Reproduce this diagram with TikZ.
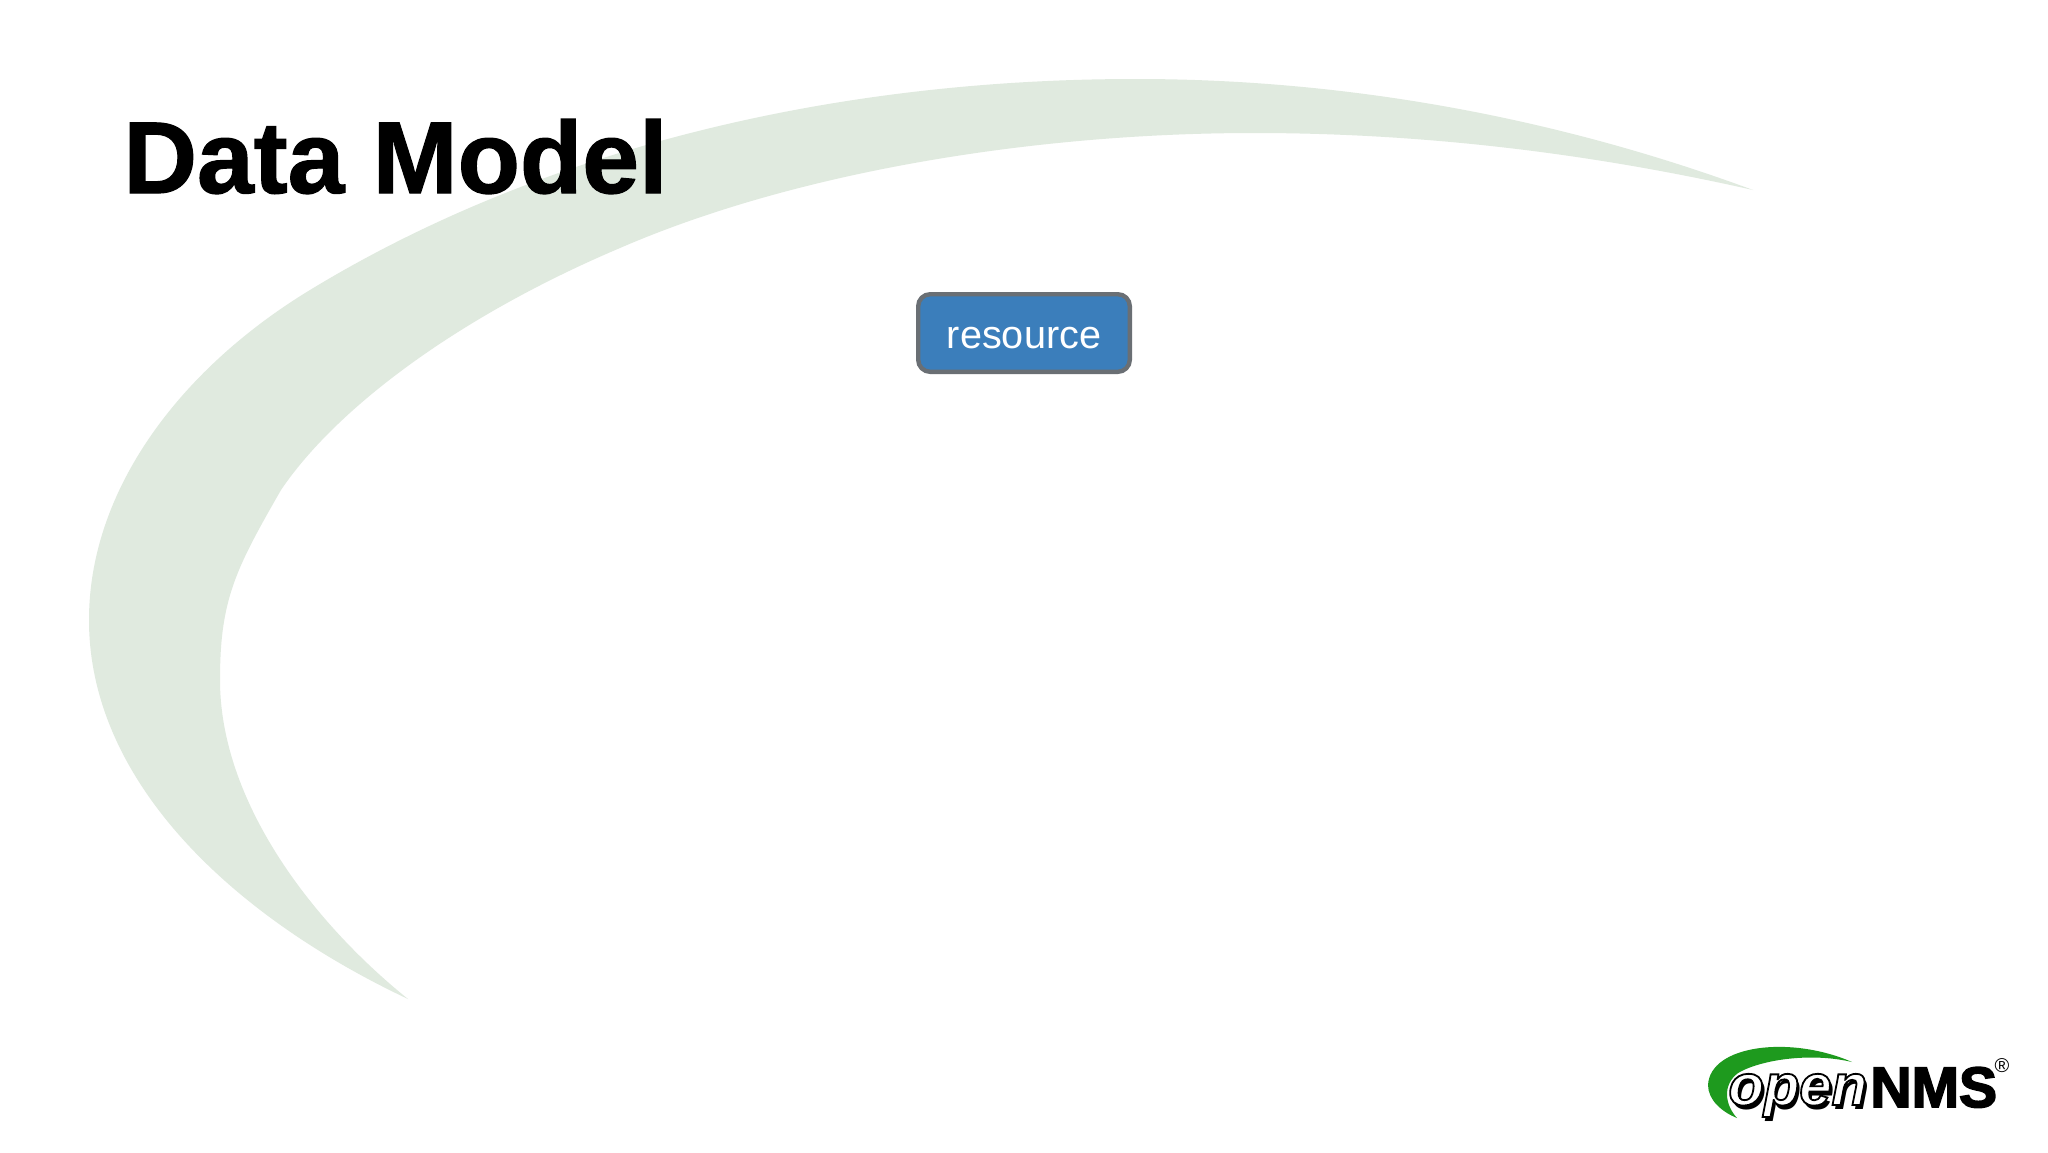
\documentclass[tikz,border=0pt]{standalone}
\usepackage{fontspec}
\setmainfont{Liberation Sans}
\newfontfamily\titlefont[BoldFeatures={FakeBold=1.2}]{Liberation Sans}
\newfontfamily\nmsfont[BoldFeatures={FakeBold=3}]{Liberation Sans}
\definecolor{swoosh}{HTML}{E0EADF}
\definecolor{boxblue}{HTML}{3B7EBB}
\definecolor{boxedge}{HTML}{6A6F74}
\definecolor{logogreen}{HTML}{1E9A1E}
\newcommand{\outlined}[1]{\special{pdf:code 0 G 2 Tr 0.9 w}#1\special{pdf:code 0 Tr}}
\tikzset{
  title/.style={font=\fontsize{51}{51}\selectfont\titlefont\bfseries,text=black,inner sep=0pt,anchor=base west},
  boxnode/.style={draw=boxedge,line width=2.2pt,fill=boxblue,rounded corners=6pt,text=white,minimum width=105.8pt,minimum height=38.8pt,inner sep=0pt,font=\fontsize{19.8}{19.8}\selectfont},
  opentext/.style={font=\fontsize{29}{29}\selectfont\bfseries\itshape,inner sep=0pt,anchor=base west},
  nmstext/.style={font=\fontsize{28.5}{28.5}\selectfont\nmsfont\bfseries,inner sep=0pt,anchor=base west,text=black}
}
\begin{document}
\begin{tikzpicture}[x=0.5pt,y=-0.5pt]
\useasboundingbox (0,0) rectangle (2048,1152);
\fill[white] (0,0) rectangle (2048,1152);
% large background swoosh
\fill[swoosh] (1753,190)
  .. controls (1550,115) and (1340,79) .. (1136,79)
  .. controls (830,79) and (540,150) .. (310,290)
  .. controls (180,369) and (89,490) .. (89,620)
  .. controls (89,780) and (230,915) .. (408,999)
  .. controls (310,920) and (220,800) .. (220,680)
  .. controls (220,600) and (235,570) .. (281,490)
  .. controls (335,410) and (455,318) .. (620,248)
  .. controls (800,170) and (1040,133) .. (1254,133)
  .. controls (1450,133) and (1620,160) .. (1753,190) -- cycle;
\node[title] (heading) at (123,193) {Data Model};
\node[boxnode] (resource) at (1024,333) {\raisebox{-7.5pt}[0pt][0pt]{resource}};
% logo
\fill[logogreen] (1852,1062)
  .. controls (1790,1035) and (1710,1045) .. (1708,1085)
  .. controls (1708,1100) and (1722,1112) .. (1737,1118)
  .. controls (1725,1105) and (1722,1085) .. (1738,1073)
  .. controls (1760,1060) and (1810,1052) .. (1852,1062) -- cycle;
\node[opentext,text=black] (openshadow) at (1731,1109) {open};
\node[opentext,text=white] (opentxt) at (1728,1105) {\outlined{open}};
\node[nmstext] (nms) at (1870,1107) {NMS};
\node[inner sep=0pt,font=\fontsize{10}{10}\selectfont,text=black] (reg) at (2002,1066) {®};
\end{tikzpicture}
\end{document}
